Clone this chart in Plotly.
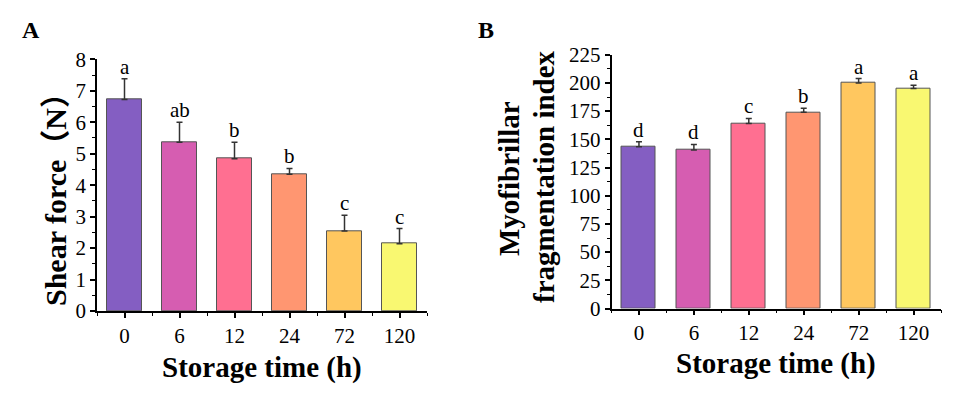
import plotly.graph_objects as go

categories = ["0", "6", "12", "24", "72", "120"]
colors = ["#845EC2", "#D65DB1", "#FF6F91", "#FF9671", "#FFC75F", "#F9F871"]

shear_mean = [6.72, 5.36, 4.84, 4.35, 2.54, 2.14]
shear_err = [0.66, 0.64, 0.52, 0.18, 0.50, 0.48]
shear_letters = ["a", "ab", "b", "b", "c", "c"]

mfi_mean = [143.5, 140.5, 164.0, 174.0, 200.0, 195.0]
mfi_err = [4.4, 5.0, 4.5, 3.6, 3.9, 2.9]
mfi_letters = ["d", "d", "c", "b", "a", "a"]

xpos = list(range(len(categories)))
W, H = 956, 395
OFF = 8  # page body margin
FONT = "Liberation Serif, Times New Roman, serif"
TFONT = "Liberation Serif, Noto Sans CJK SC, serif"

def px_x(p):
    return (p - OFF) / W

def px_y(p):
    return 1 - (p - OFF) / H

fig = go.Figure()

for xa, ya, means, errs in [("x", "y", shear_mean, shear_err), ("x2", "y2", mfi_mean, mfi_err)]:
    fig.add_trace(go.Bar(
        x=xpos, y=means, xaxis=xa, yaxis=ya, width=0.62,
        marker=dict(color=colors, line=dict(color="#555555", width=1)),
        error_y=dict(type="data", symmetric=False, array=errs, arrayminus=[0] * len(errs),
                     color="#333333", thickness=1.5, width=3),
        showlegend=False, hoverinfo="skip",
    ))

axis_common = dict(
    showline=True, linecolor="black", linewidth=1.5, ticks="outside", ticklen=5,
    tickwidth=1.5, tickcolor="black", showgrid=False, zeroline=False, automargin=False,
    tickfont=dict(family=FONT, size=21, color="black"),
)

xcommon = dict(axis_common, tickmode="array", tickvals=xpos, ticktext=categories,
               range=[-0.5, len(categories) - 0.5],
               minor=dict(tickmode="array", tickvals=[i + 0.5 for i in range(-1, len(categories))],
                          ticks="outside", ticklen=3, tickwidth=1.2, tickcolor="black"))

fig.update_layout(
    width=W, height=H, autosize=False,
    margin=dict(l=0, r=0, t=0, b=0, pad=0, autoexpand=False),
    paper_bgcolor="white", plot_bgcolor="white", bargap=0,
    xaxis=dict(xcommon, domain=[px_x(97), px_x(427)], anchor="y"),
    yaxis=dict(axis_common, domain=[px_y(311), px_y(59.3)], range=[0, 8], dtick=1,
               anchor="x",
               minor=dict(dtick=0.5, ticks="outside", ticklen=3, tickwidth=1.2, tickcolor="black")),
    xaxis2=dict(xcommon, domain=[px_x(611.5), px_x(941)], anchor="y2"),
    yaxis2=dict(axis_common, domain=[px_y(308.5), px_y(54.7)], range=[0, 225], dtick=25,
                anchor="x2",
                minor=dict(dtick=12.5, ticks="outside", ticklen=3, tickwidth=1.2, tickcolor="black")),
)

ann = []
for i in xpos:
    ann.append(dict(x=i, y=shear_mean[i] + shear_err[i], xref="x", yref="y", text=shear_letters[i],
                    showarrow=False, yanchor="bottom", yshift=-2,
                    font=dict(family=FONT, size=21, color="black")))
    ann.append(dict(x=i, y=mfi_mean[i] + mfi_err[i], xref="x2", yref="y2", text=mfi_letters[i],
                    showarrow=False, yanchor="bottom", yshift=-2,
                    font=dict(family=FONT, size=21, color="black")))

title_font = dict(family=TFONT, size=29, color="black")
ann += [
    dict(x=px_x(262), y=px_y(367), xref="paper", yref="paper", text="<b>Storage time (h)</b>",
         showarrow=False, xanchor="center", yanchor="middle", font=title_font),
    dict(x=px_x(776), y=px_y(363), xref="paper", yref="paper", text="<b>Storage time (h)</b>",
         showarrow=False, xanchor="center", yanchor="middle", font=title_font),
    dict(x=px_x(55), y=px_y(192), xref="paper", yref="paper", text="<b>Shear force（N）</b>",
         showarrow=False, textangle=-90, xanchor="center", yanchor="middle",
         font=dict(family=TFONT, size=30, color="black")),
    dict(x=px_x(509), y=px_y(178), xref="paper", yref="paper", text="<b>Myofibrillar</b>",
         showarrow=False, textangle=-90, xanchor="center", yanchor="middle", font=title_font),
    dict(x=px_x(544), y=px_y(177), xref="paper", yref="paper", text="<b>fragmentation index</b>",
         showarrow=False, textangle=-90, xanchor="center", yanchor="middle", font=title_font),
    dict(x=px_x(31), y=px_y(30), xref="paper", yref="paper", text="<b>A</b>",
         showarrow=False, xanchor="center", yanchor="middle",
         font=dict(family=FONT, size=24, color="black")),
    dict(x=px_x(486), y=px_y(30), xref="paper", yref="paper", text="<b>B</b>",
         showarrow=False, xanchor="center", yanchor="middle",
         font=dict(family=FONT, size=24, color="black")),
]
fig.update_layout(annotations=ann)

fig.write_html("out.html")
